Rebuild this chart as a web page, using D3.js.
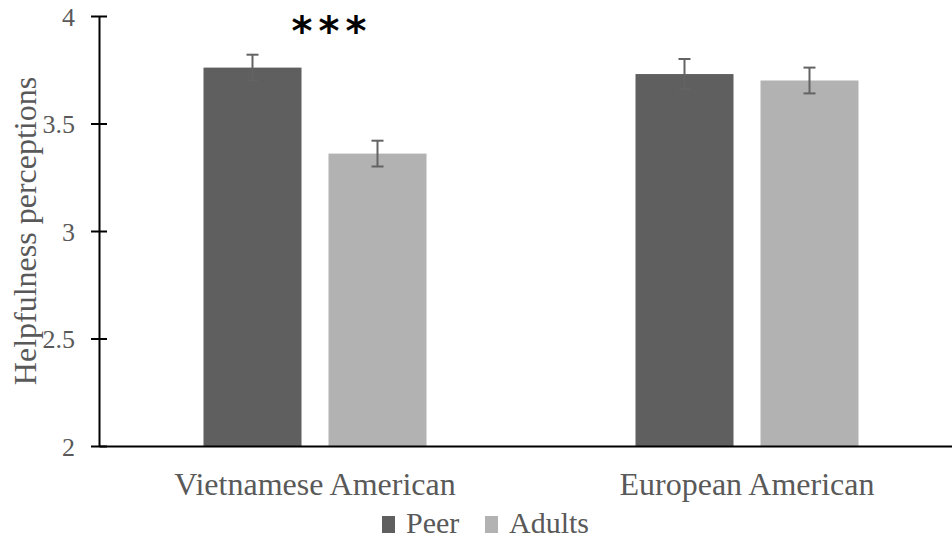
<!DOCTYPE html>
<html>
<head>
<meta charset="utf-8">
<script src="https://cdn.jsdelivr.net/npm/d3@7/dist/d3.min.js"></script>
<style>
  html, body { margin: 0; padding: 0; background: #fff; }
  svg { display: block; }
</style>
</head>
<body>
<svg id="chart" width="952" height="544"></svg>
<script>
const categories = ["Vietnamese American", "European American"];
const seriesNames = ["Peer", "Adults"];
const peerValues = [3.76, 3.73];
const adultValues = [3.36, 3.70];
const peerErrors = [0.06, 0.07];
const adultErrors = [0.06, 0.06];
const yTicks = [2, 2.5, 3, 3.5, 4];
const yTickLabels = ["2", "2.5", "3", "3.5", "4"];
const yLabel = "Helpfulness perceptions";
const significance = ["***", ""];

const colors = {Peer: "#5f5f5f", Adults: "#b2b2b2"};
const textColor = "#595959";
const font = "'Liberation Serif', 'Times New Roman', 'DejaVu Serif', serif";

const rows = categories.map((c, i) => ({
  category: c,
  bars: [
    {series: "Peer", value: peerValues[i], err: peerErrors[i]},
    {series: "Adults", value: adultValues[i], err: adultErrors[i]}
  ],
  sig: significance[i]
}));

const svg = d3.select("#chart");
const mLeft = 99, mRight = 963, mTop = 16, mBottom = 446;

const y = d3.scaleLinear().domain([2, 4]).range([mBottom, mTop]);
const x0 = d3.scaleBand().domain(categories).range([mLeft, mRight]).paddingInner(0).paddingOuter(0);
const x1 = d3.scaleBand().domain(seriesNames).range([0, x0.bandwidth()]).paddingInner(0.216).paddingOuter(0.836);

// bars
const groups = svg.append("g").selectAll("g").data(rows).join("g")
  .attr("transform", d => `translate(${x0(d.category)},0)`);

groups.selectAll("rect").data(d => d.bars).join("rect")
  .attr("x", d => x1(d.series))
  .attr("width", x1.bandwidth())
  .attr("y", d => y(d.value))
  .attr("height", d => y(2) - y(d.value))
  .attr("fill", d => colors[d.series]);

// error bars
const eb = groups.selectAll("g.err").data(d => d.bars).join("g").attr("class", "err")
  .attr("stroke", "#636363").attr("stroke-width", 2);
eb.append("line")
  .attr("x1", d => x1(d.series) + x1.bandwidth() / 2)
  .attr("x2", d => x1(d.series) + x1.bandwidth() / 2)
  .attr("y1", d => y(d.value + d.err))
  .attr("y2", d => y(d.value - d.err));
eb.append("line")
  .attr("x1", d => x1(d.series) + x1.bandwidth() / 2 - 6)
  .attr("x2", d => x1(d.series) + x1.bandwidth() / 2 + 6)
  .attr("y1", d => y(d.value + d.err))
  .attr("y2", d => y(d.value + d.err));
eb.append("line")
  .attr("x1", d => x1(d.series) + x1.bandwidth() / 2 - 6)
  .attr("x2", d => x1(d.series) + x1.bandwidth() / 2 + 6)
  .attr("y1", d => y(d.value - d.err))
  .attr("y2", d => y(d.value - d.err));

// significance
groups.append("text")
  .attr("x", x0.bandwidth() / 2 + 17)
  .attr("y", 45)
  .attr("text-anchor", "middle")
  .attr("font-family", "'DejaVu Sans', sans-serif")
  .attr("font-weight", "bold")
  .attr("font-size", 40)
  .attr("letter-spacing", 6)
  .attr("fill", "#000")
  .text(d => d.sig);

// y axis
const yAxis = d3.axisLeft(y).tickValues(yTicks).tickFormat((d, i) => yTickLabels[i]).tickSize(0).tickPadding(24);
const ya = svg.append("g").attr("transform", `translate(${mLeft},0)`).call(yAxis);
ya.select(".domain").attr("stroke", "#000").attr("stroke-width", 2);
ya.selectAll(".tick text").attr("font-family", font).attr("font-size", 26).attr("fill", textColor).attr("dy", "0.35em");
ya.selectAll(".tick").append("line").attr("x1", -8).attr("x2", 8).attr("stroke", "#000").attr("stroke-width", 2);

// x axis
const xAxis = d3.axisBottom(x0).tickSize(0).tickPadding(26);
const xa = svg.append("g").attr("transform", `translate(0,${mBottom})`).call(xAxis);
xa.select(".domain").attr("stroke", "#000").attr("stroke-width", 2);
xa.selectAll(".tick text").attr("font-family", font).attr("font-size", 32).attr("fill", textColor);

// y label
svg.append("text")
  .attr("transform", `translate(36,${(mTop + mBottom) / 2}) rotate(-90)`)
  .attr("text-anchor", "middle")
  .attr("font-family", font)
  .attr("font-size", 32)
  .attr("fill", textColor)
  .text(yLabel);

// legend
const legend = svg.append("g");
const legendItems = [{name: "Peer", x: 382}, {name: "Adults", x: 485}];
legendItems.forEach(it => {
  legend.append("rect").attr("x", it.x).attr("y", 516).attr("width", 13).attr("height", 17).attr("fill", colors[it.name]);
  legend.append("text").attr("x", it.x + 24).attr("y", 533)
    .attr("font-family", font).attr("font-size", 30).attr("fill", textColor).text(it.name);
});
</script>
</body>
</html>
